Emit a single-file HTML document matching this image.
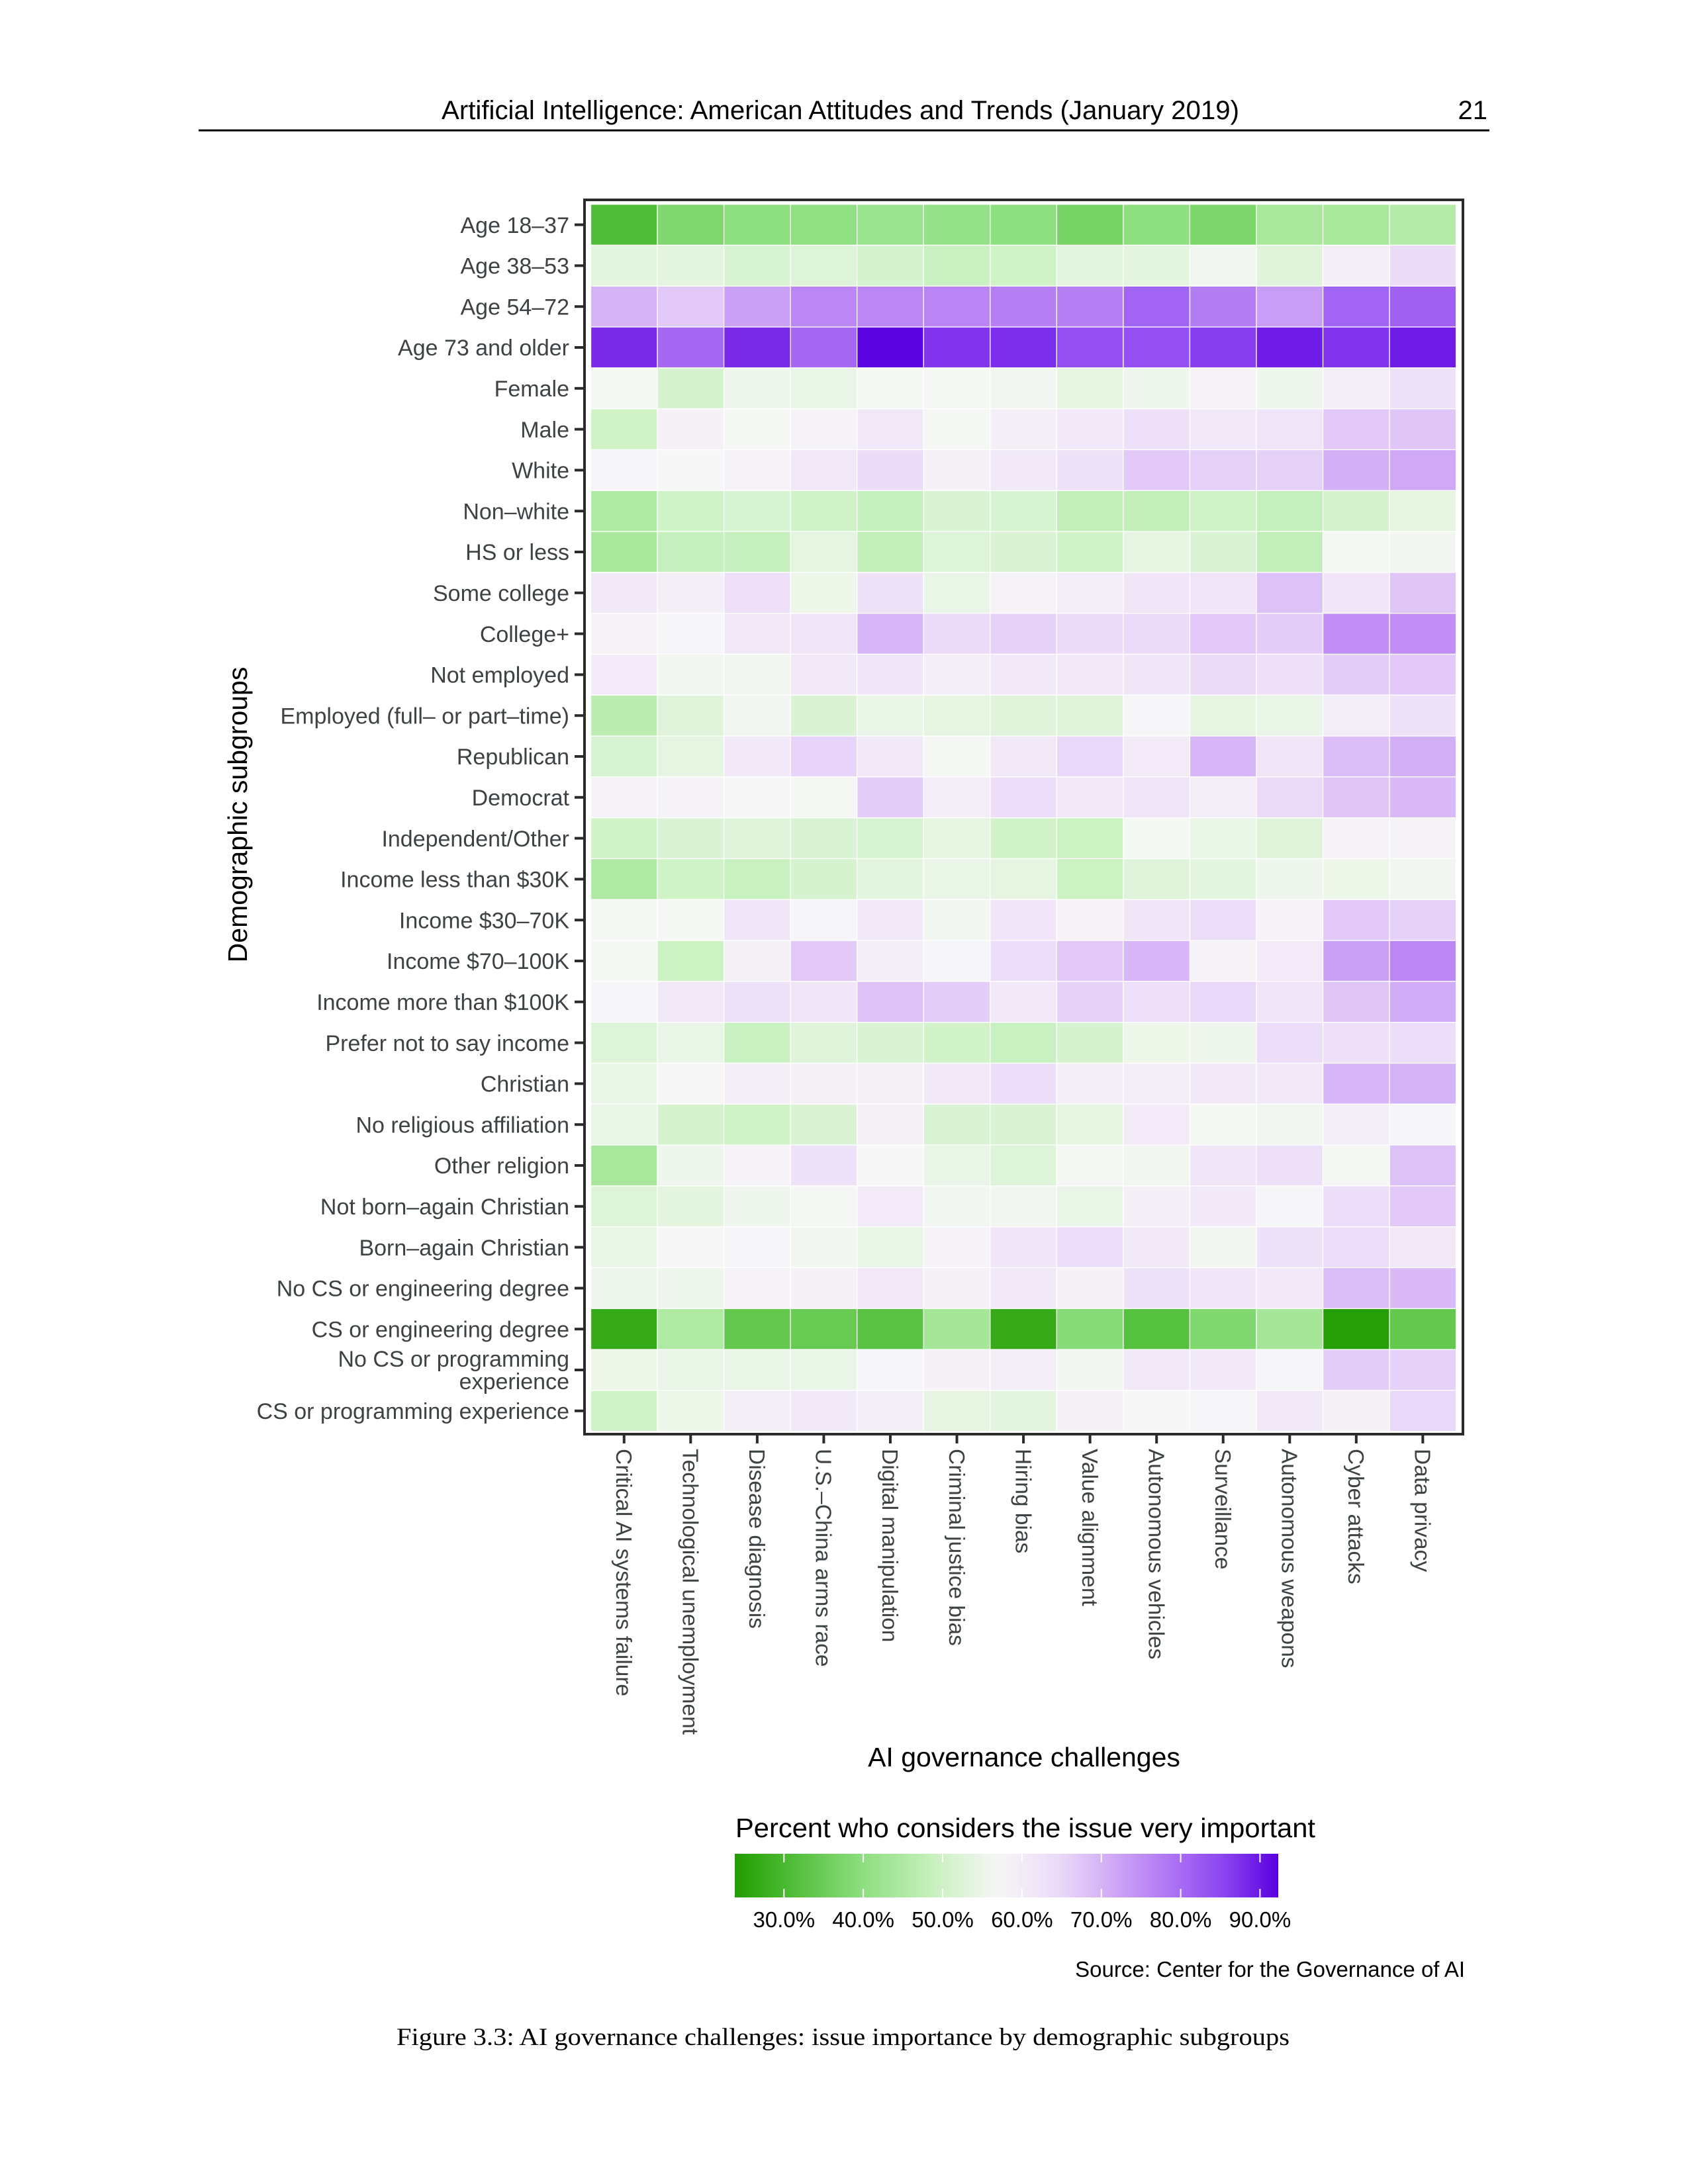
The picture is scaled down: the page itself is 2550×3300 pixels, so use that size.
<!DOCTYPE html>
<html><head><meta charset="utf-8"><title>AI governance challenges heatmap</title>
<style>
html,body{margin:0;padding:0;background:#fff;}
svg{display:block;}
text{font-family:"Liberation Sans",Arial,sans-serif;}
</style></head>
<body>
<svg id="chart" xmlns="http://www.w3.org/2000/svg" width="2550" height="3300" viewBox="0 0 2550 3300">
<rect x="0" y="0" width="2550" height="3300" fill="#fff"/>
<g>
<text x="667" y="180" font-size="40" fill="#000" textLength="1205" lengthAdjust="spacingAndGlyphs">Artificial Intelligence: American Attitudes and Trends (January 2019)</text>
<text x="2247" y="180" font-size="40" fill="#000" text-anchor="end">21</text>
<line x1="300" y1="197" x2="2250" y2="197" stroke="#000" stroke-width="3"/>
</g>
<g id="cells"></g>
<rect x="883" y="302" width="1327" height="1865" fill="none" stroke="#2b2b2b" stroke-width="4"/>
<g id="yaxis"></g>
<g id="xaxis"></g>
<text transform="translate(373,1231) rotate(-90)" text-anchor="middle" font-size="41" fill="#000">Demographic subgroups</text>
<text x="1547" y="2669" text-anchor="middle" font-size="41" fill="#000">AI governance challenges</text>
<g id="legend">
<text x="1111" y="2776" font-size="41" fill="#000" textLength="876" lengthAdjust="spacingAndGlyphs">Percent who considers the issue very important</text>
<defs><linearGradient id="lg" x1="0" x2="1" y1="0" y2="0"></linearGradient></defs>
<rect x="1110" y="2801" width="821" height="66" fill="url(#lg)"/>
</g>
<text x="2213" y="2987" text-anchor="end" font-size="33" fill="#000">Source: Center for the Governance of AI</text>
<text x="599" y="3090" font-family="Liberation Serif, serif" font-size="37" fill="#000" textLength="1349" lengthAdjust="spacingAndGlyphs" style="font-family:'Liberation Serif',serif">Figure 3.3: AI governance challenges: issue importance by demographic subgroups</text>
</svg>
<script>
const challenges = ["Critical AI systems failure","Technological unemployment","Disease diagnosis","U.S.\u2013China arms race","Digital manipulation","Criminal justice bias","Hiring bias","Value alignment","Autonomous vehicles","Surveillance","Autonomous weapons","Cyber attacks","Data privacy"];
const subgroups = ["Age 18\u201337","Age 38\u201353","Age 54\u201372","Age 73 and older","Female","Male","White","Non\u2013white","HS or less","Some college","College+","Not employed","Employed (full\u2013 or part\u2013time)","Republican","Democrat","Independent/Other","Income less than $30K","Income $30\u201370K","Income $70\u2013100K","Income more than $100K","Prefer not to say income","Christian","No religious affiliation","Other religion","Not born\u2013again Christian","Born\u2013again Christian","No CS or engineering degree","CS or engineering degree","No CS or programming\nexperience","CS or programming experience"];
const legendTicks = [30,40,50,60,70,80,90];
const legendTickLabels = ["30.0%","40.0%","50.0%","60.0%","70.0%","80.0%","90.0%"];
const vAge1837 = [31,38,40,40.5,42,41,40,37,40,37.5,44,44,46];
const vAge3853 = [53.5,53.5,51.5,52.5,51,49,50,53.5,53.5,56,53,59,64];
const vAge5472 = [70,67,72.5,76,76,76.5,77,77,81,77.5,73,81,81.5];
const vAge73 = [88,80.5,88,80.5,92,87,87.5,84,84,86,89.5,87,89.5];
const vFemale = [56.5,51,55.5,54.5,56.5,56.5,56,54,55.5,58,55.5,59.5,62.5];
const vMale = [50,58.5,56.5,58,60.5,56.5,59,61,63,60.5,62,67,67.5];
const vWhite = [57.5,57,58,60.5,64,58.5,61,62.5,67,66,66,70.5,71.5];
const vNonwhite = [45,50,51.5,50,48.5,52,51.5,48,48,50,48.5,51,54];
const vHS = [44,48.5,48.5,54,48,52.5,52,50.5,54,52,48,56.5,56];
const vSomeCollege = [60.5,59,63,55,62.5,54.5,58,59.5,61.5,62,68,61.5,67.5];
const vCollege = [58,57.5,60.5,61.5,69.5,64.5,66,64,64.5,67,66.5,75,75];
const vNotEmployed = [60,56,56,60.5,61.5,59,61,61,61.5,64,63,66.5,67];
const vEmployed = [47,53,56,52,54.5,54,53,53,57.5,54,54.5,59.5,62.5];
const vRepublican = [51.5,54,60.5,65.5,61,56.5,61,65,60,69.5,61.5,68.5,70.5];
const vDemocrat = [58,58,57,56.5,66.5,59.5,63.5,61,62,59.5,64.5,67.5,69];
const vIndependent = [50.5,52,53,52,51.5,54,50.5,49.5,56.5,54.5,53,58,58];
const vInc30 = [45,50,49,51,53.5,54.5,54,49.5,53,53.5,55.5,55,56];
const vInc3070 = [56.5,56.5,61.5,57.5,61,56,61.5,58,61.5,63.5,58,67,66];
const vInc70100 = [56.5,49.5,58.5,67,59,57.5,63.5,67,69.5,58,60,72.5,76];
const vInc100 = [57.5,60.5,62.5,61.5,68,66.5,61,66,63,65,61.5,67.5,71];
const vIncNA = [52.5,54.5,49,53,52,50.5,49,51,55,55.5,63.5,63,63.5];
const vChristian = [54.5,57,59,58.5,58.5,60.5,63.5,59,59.5,60.5,60.5,69.5,70];
const vNoRelig = [54.5,51,50,52,58.5,52,52,54,60,56.5,56,59,57.5];
const vOtherRelig = [44,55.5,58,62.5,57,54.5,52.5,56.5,56,61.5,63,56.5,68];
const vNotBorn = [52.5,53.5,55.5,56.5,60,56,56,54.5,59,60.5,57.5,63.5,67];
const vBorn = [54.5,57,57.5,56,54.5,58,61.5,63.5,60.5,56,62.5,63.5,61];
const vNoCSDeg = [55.5,55.5,58,58.5,61,58.5,60.5,58.5,62.5,61.5,60.5,68.5,69];
const vCSDeg = [27,45,34,34.5,32.5,43.5,27,39,32,38,43.5,24.5,34];
const vNoCSProg = [55,54.5,54.5,54.5,57.5,58.5,59.5,56,61,61,57.5,66.5,66];
const vCSProg = [50,55,59,60.5,59,54,53.5,58.5,57,57.5,61,58.5,65];
const values = [vAge1837,vAge3853,vAge5472,vAge73,vFemale,vMale,vWhite,vNonwhite,vHS,vSomeCollege,vCollege,vNotEmployed,vEmployed,vRepublican,vDemocrat,vIndependent,vInc30,vInc3070,vInc70100,vInc100,vIncNA,vChristian,vNoRelig,vOtherRelig,vNotBorn,vBorn,vNoCSDeg,vCSDeg,vNoCSProg,vCSProg];

const NS = "http://www.w3.org/2000/svg";
const X0 = 892.5, CW = 100.55, Y0 = 308.7, RH = 61.8;
const xScale = i => X0 + i * CW;
const yScale = j => Y0 + j * RH;
const LMIN = 23.8, LMAX = 92.3, LX0 = 1110, LX1 = 1931;
const legendX = v => LX0 + (v - LMIN) / (LMAX - LMIN) * (LX1 - LX0);
const stops = [[23.8,[34,155,0]],[30,[72,185,47]],[40,[142,223,128]],[50,[207,242,199]],[57,[247,247,247]],[65,[234,216,248]],[75,[192,142,245]],[85,[142,72,240]],[92.3,[90,0,224]]];
function color(v){
  if(v<=stops[0][0]) return rgb(stops[0][1]);
  for(let k=1;k<stops.length;k++){
    if(v<=stops[k][0]){
      const a=stops[k-1],b=stops[k],t=(v-a[0])/(b[0]-a[0]);
      return rgb(a[1].map((c,i)=>c+(b[1][i]-c)*t));
    }
  }
  return rgb(stops[stops.length-1][1]);
}
function rgb(c){return "rgb("+c.map(x=>Math.round(x)).join(",")+")";}
function mk(tag,attrs,parent){const e=document.createElementNS(NS,tag);for(const k in attrs)e.setAttribute(k,attrs[k]);parent.appendChild(e);return e;}

const cells=document.getElementById("cells");
values.forEach((row,j)=>{
  row.forEach((v,i)=>{
    const r=mk("rect",{x:xScale(i),y:yScale(j),width:CW,height:RH,fill:color(v),stroke:"#fff","stroke-width":1.3},cells);
    
    
  });
});

const ya=document.getElementById("yaxis");
subgroups.forEach((s,j)=>{
  const cy=yScale(j)+RH/2;
  const t=mk("line",{x1:868,y1:cy,x2:883,y2:cy,stroke:"#2b2b2b","stroke-width":4},ya);
  
  
  const lines=s.split("\n");
  const txt=mk("text",{x:860,y:cy,"text-anchor":"end","font-size":34,fill:"#3d4245"},ya);
  
  
  lines.forEach((ln,k)=>{
    const ts=mk("tspan",{x:860,dy:k===0?((0.36-(lines.length-1)*0.5)+"em"):"1.0em"},txt);
    ts.textContent=ln;
  });
});

const xa=document.getElementById("xaxis");
challenges.forEach((c,i)=>{
  const cx=xScale(i)+CW/2;
  const t=mk("line",{x1:cx,y1:2168,x2:cx,y2:2181,stroke:"#2b2b2b","stroke-width":4},xa);
  
  
  const txt=mk("text",{transform:"translate("+cx+",2189) rotate(90)",x:0,y:0,dy:"0.35em","font-size":33.5,fill:"#3d4245"},xa);
  
  
  txt.textContent=c;
});

const lg=document.getElementById("lg");
for(let k=0;k<=40;k++){
  const v=LMIN+(LMAX-LMIN)*k/40;
  mk("stop",{offset:(k/40*100)+"%","stop-color":color(v)},lg);
}
const leg=document.getElementById("legend");
legendTicks.forEach((v,k)=>{
  const x=legendX(v);
  const a=mk("line",{x1:x,y1:2801,x2:x,y2:2814,stroke:"#fff","stroke-width":2},leg);
  
  
  const b=mk("line",{x1:x,y1:2854,x2:x,y2:2867,stroke:"#fff","stroke-width":2},leg);
  
  
  const t=mk("text",{x:x,y:2912,"text-anchor":"middle","font-size":33,fill:"#000"},leg);
  
  
  t.textContent=legendTickLabels[k];
});
</script>
</body></html>
